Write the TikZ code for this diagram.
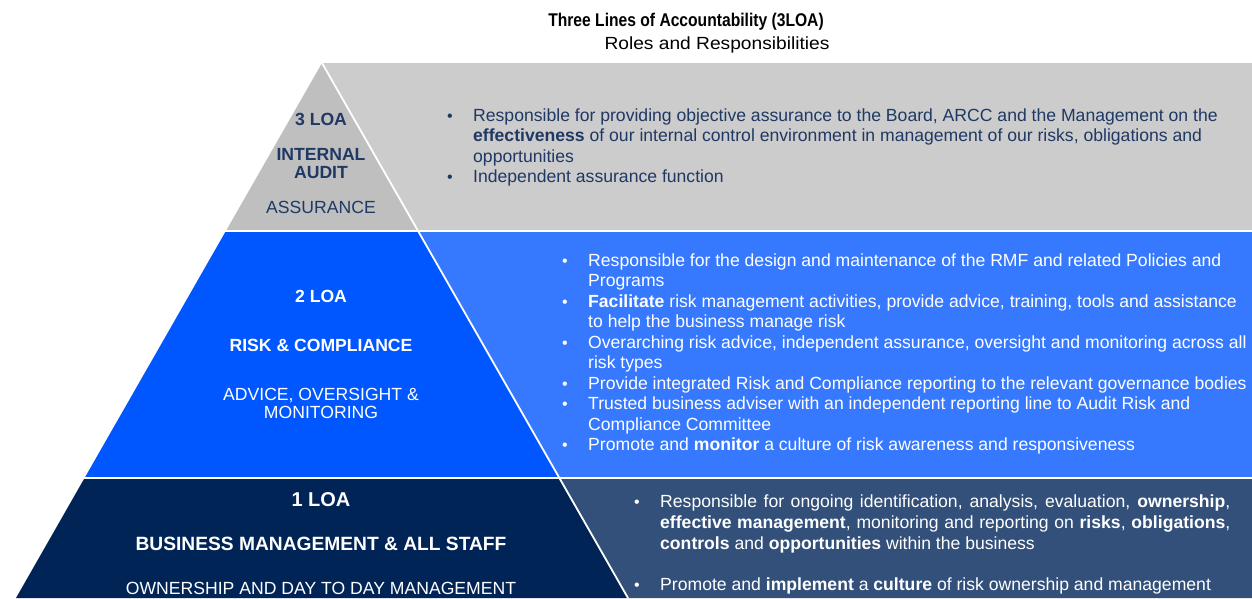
\documentclass[tikz,border=0pt]{standalone}
\usepackage{fontspec}
\setmainfont{Liberation Sans}
\definecolor{gtri}{HTML}{BFBFBF}
\definecolor{grect}{HTML}{CCCCCC}
\definecolor{btri}{HTML}{0057FF}
\definecolor{brect}{HTML}{3679FF}
\definecolor{ntri}{HTML}{002456}
\definecolor{nrect}{HTML}{33507A}
\definecolor{navytext}{HTML}{1F3864}
\tikzset{
  body/.style={inner sep=0pt, anchor=base west, font=\fontsize{17.6}{20.5}\selectfont},
  lbl/.style={inner sep=0pt, anchor=base, font=\fontsize{17.6}{20}\selectfont},
  lblb/.style={inner sep=0pt, anchor=base, font=\fontsize{17.6}{20}\selectfont\bfseries},
  bul/.style={inner sep=0pt, anchor=base, font=\fontsize{16}{20.5}\selectfont},
}
\begin{document}
\begin{tikzpicture}[x=1pt,y=-1pt]
\useasboundingbox (0,0) rectangle (1252,598);
\fill[white] (0,0) rectangle (1252,598);
% pyramid apex
\coordinate (apex) at (322,63);
% bands right rectangles
\fill[grect] (322,63) -- (1252,63) -- (1252,231) -- (418.1,231) -- cycle;
\fill[brect] (418.1,231) -- (1252,231) -- (1252,478) -- (559.4,478) -- cycle;
\fill[nrect] (559.4,478) -- (1252,478) -- (1252,598) -- (628,598) -- cycle;
% pyramid
\fill[gtri] (apex) -- (418.1,231) -- (225.9,231) -- cycle;
\fill[btri] (225.9,231) -- (418.1,231) -- (559.4,478) -- (84.6,478) -- cycle;
\fill[ntri] (84.6,478) -- (559.4,478) -- (628,598) -- (16,598) -- cycle;
% white separators
\draw[white, line width=1.8pt] (apex) -- (628,598);
\draw[white, line width=2pt] (0,231) -- (1252,231);
\draw[white, line width=2pt] (0,478) -- (1252,478);
% title
\node[inner sep=0pt, anchor=base, font=\fontsize{18.4}{20}\selectfont\bfseries] (title) at (686,26) {\scalebox{0.85}[1]{Three Lines of Accountability (3LOA)}};
\node[inner sep=0pt, anchor=base, font=\fontsize{17.6}{20}\selectfont] (subtitle) at (717,49) {\scalebox{1.09}[1]{Roles and Responsibilities}};
% left labels 3 LOA
\begin{scope}[navytext]
\node[lblb] (l3a) at (321,125) {3 LOA};
\node[lblb] (l3b) at (321,160) {INTERNAL};
\node[lblb] (l3c) at (321,178) {AUDIT};
\node[lbl] (l3d) at (321,213) {ASSURANCE};
\end{scope}
\begin{scope}[white]
\node[lblb] (l2a) at (321,302) {2 LOA};
\node[lblb] (l2b) at (321,351) {RISK \& COMPLIANCE};
\node[lbl] (l2c) at (321,400) {ADVICE, OVERSIGHT \&};
\node[lbl] (l2d) at (321,418) {MONITORING};
\node[lblb, font=\fontsize{20}{22}\selectfont\bfseries] (l1a) at (321,506) {1 LOA};
\node[lblb, font=\fontsize{19.2}{22}\selectfont\bfseries] (l1b) at (321,550) {BUSINESS MANAGEMENT \& ALL STAFF};
\node[lbl] (l1c) at (321,594) {OWNERSHIP AND DAY TO DAY MANAGEMENT};
\end{scope}
% gray band text
\begin{scope}[navytext]
\node[bul] (g1b) at (450,121) {•};
\node[body] (g1) at (473,121) {Responsible for providing objective assurance to the Board, ARCC and the Management on the};
\node[body] (g2) at (473,141.5) {\textbf{effectiveness} of our internal control environment in management of our risks, obligations and};
\node[body] (g3) at (473,162) {opportunities};
\node[bul] (g4b) at (450,182) {•};
\node[body] (g4) at (473,182) {Independent assurance function};
\end{scope}
% blue band text
\begin{scope}[white]
\node[bul] (b1b) at (565,266) {•};
\node[body] (b1) at (588,266) {Responsible for the design and maintenance of the RMF and related Policies and};
\node[body] (b2) at (588,286.5) {Programs};
\node[bul] (b3b) at (565,307) {•};
\node[body] (b3) at (588,307) {\textbf{Facilitate} risk management activities, provide advice, training, tools and assistance};
\node[body] (b4) at (588,327.5) {to help the business manage risk};
\node[bul] (b5b) at (565,348) {•};
\node[body] (b5) at (588,348) {Overarching risk advice, independent assurance, oversight and monitoring across all};
\node[body] (b6) at (588,368.5) {risk types};
\node[bul] (b7b) at (565,389) {•};
\node[body] (b7) at (588,389) {Provide integrated Risk and Compliance reporting to the relevant governance bodies};
\node[bul] (b8b) at (565,409.5) {•};
\node[body] (b8) at (588,409.5) {Trusted business adviser with an independent reporting line to Audit Risk and};
\node[body] (b9) at (588,430) {Compliance Committee};
\node[bul] (b10b) at (565,450.5) {•};
\node[body] (b10) at (588,450.5) {Promote and \textbf{monitor} a culture of risk awareness and responsiveness};
% navy band text
\node[bul] (n1b) at (637,507) {•};
\node[body] (n1) at (660,507) {\makebox[570pt][s]{Responsible for ongoing identification, analysis, evaluation, \textbf{ownership},}};
\node[body] (n2) at (660,528) {\makebox[570pt][s]{\textbf{effective management}, monitoring and reporting on \textbf{risks}, \textbf{obligations},}};
\node[body] (n3) at (660,549) {\textbf{controls} and \textbf{opportunities} within the business};
\node[bul] (n4b) at (637,590) {•};
\node[body] (n4) at (660,590) {Promote and \textbf{implement} a \textbf{culture} of risk ownership and management};
\end{scope}
\end{tikzpicture}
\end{document}
